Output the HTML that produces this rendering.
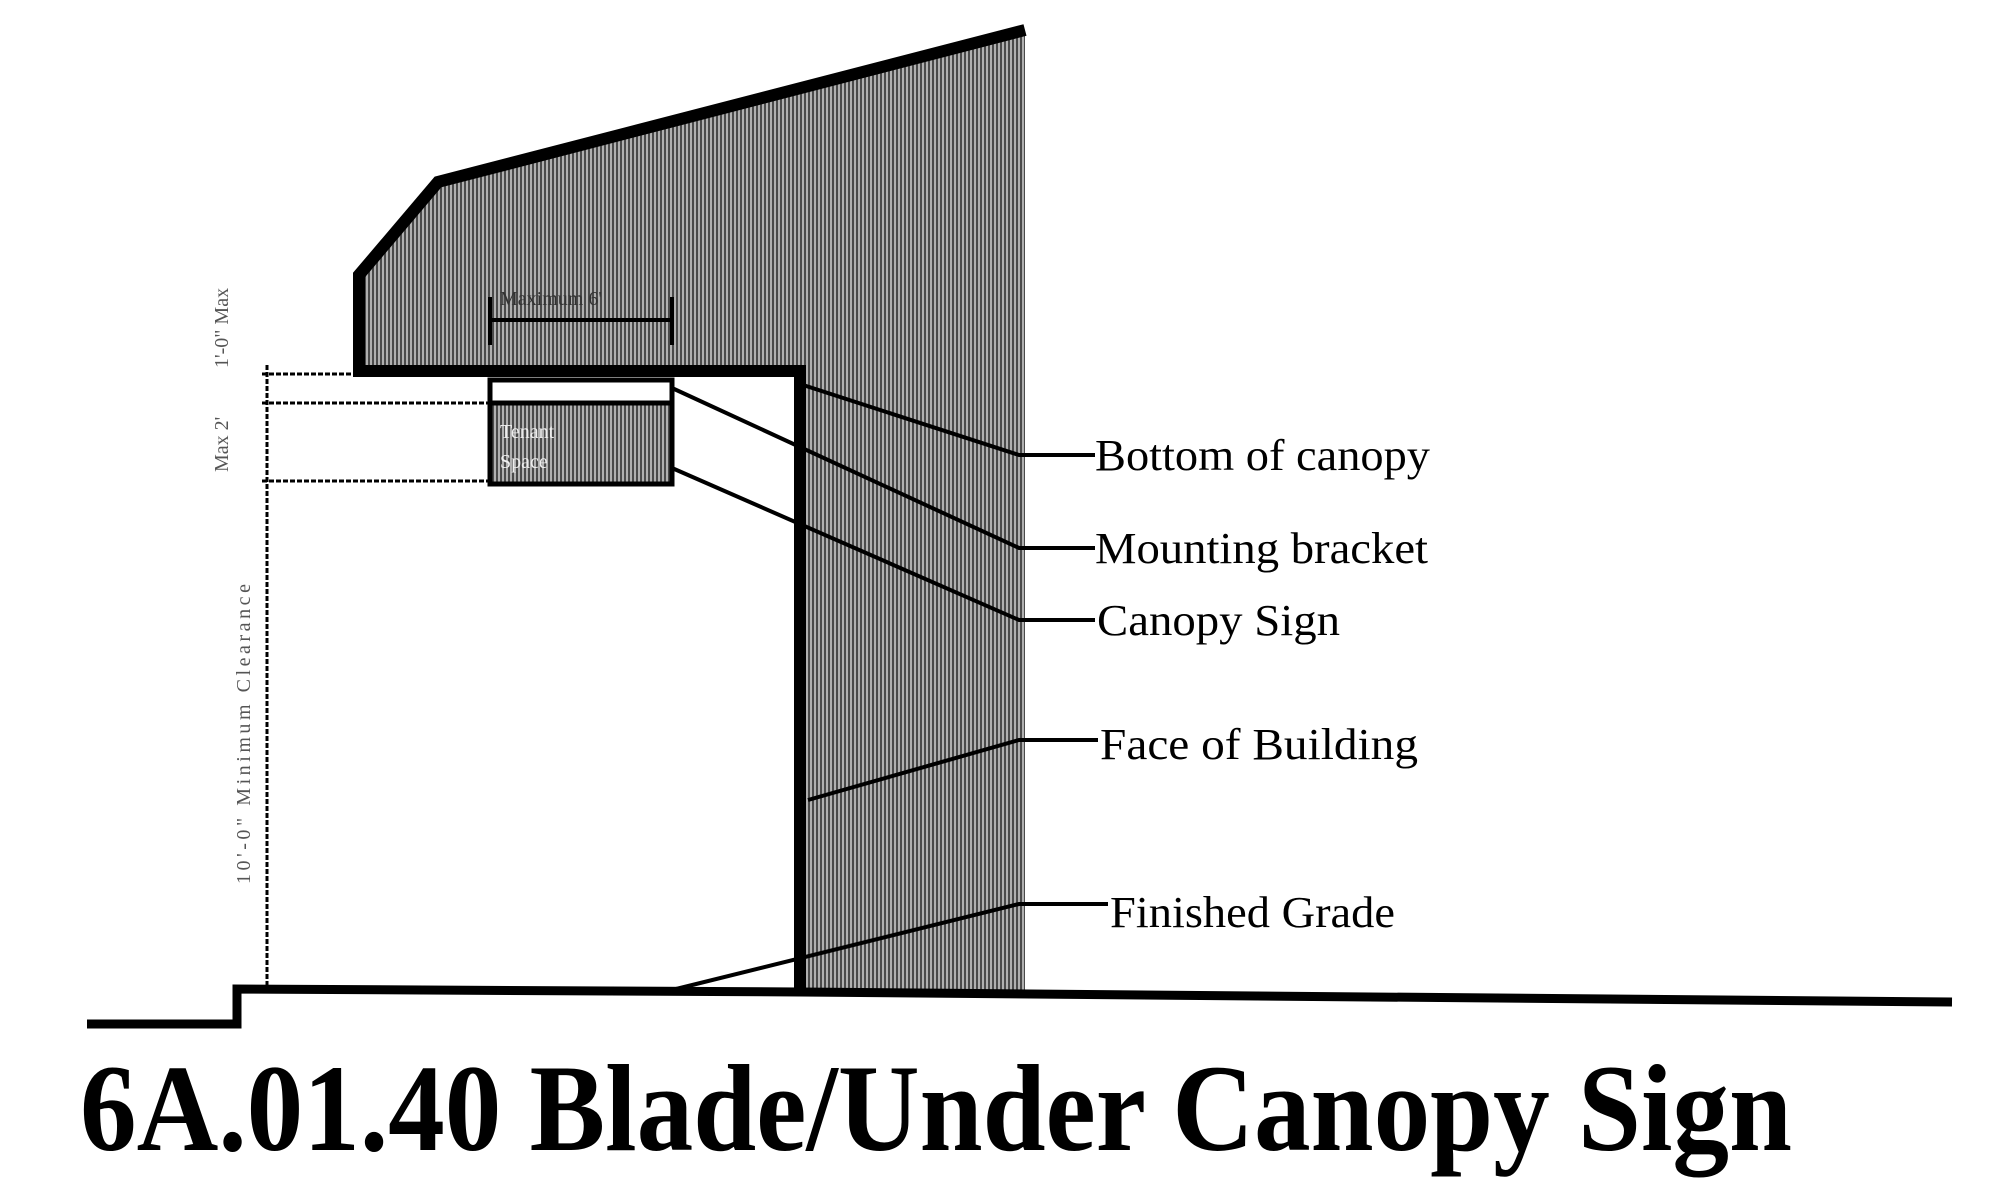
<!DOCTYPE html>
<html><head><meta charset="utf-8"><style>
html,body{margin:0;padding:0;background:#fff;}
svg{display:block}
</style></head><body>
<svg width="2000" height="1182" viewBox="0 0 2000 1182" xmlns="http://www.w3.org/2000/svg">
<defs>
<pattern id="h" width="4" height="6" patternUnits="userSpaceOnUse">
<rect width="4" height="6" fill="#b0b0b0"/><rect width="2" height="6" fill="#4a4a4a"/>
</pattern>
</defs>
<path d="M438,182 L1025,32 L1025,992 L800,992 L800,371 L359,371 L359,275 Z" fill="url(#h)"/>
<rect x="490" y="403" width="182" height="81" fill="url(#h)"/>
<rect x="490" y="380" width="182" height="23" fill="#fff"/>
<polyline points="1025,30 438,182 359,275 359,371 800,371 800,994" fill="none" stroke="#000" stroke-width="12" stroke-linejoin="miter"/>
<rect x="490" y="380" width="182" height="104" fill="none" stroke="#000" stroke-width="5"/>
<line x1="490" y1="403" x2="672" y2="403" stroke="#000" stroke-width="5"/>
<text x="500" y="438" font-family="Liberation Serif, serif" font-size="20" fill="#eee">Tenant</text>
<text x="500" y="468" font-family="Liberation Serif, serif" font-size="20" fill="#eee">Space</text>
<polyline points="87,1024 237,1024 237,989 800,992 1952,1002" fill="none" stroke="#000" stroke-width="9"/>
<g stroke="#000" stroke-width="3" stroke-dasharray="5,2">
<line x1="262" y1="374" x2="359" y2="374"/>
<line x1="262" y1="403" x2="490" y2="403"/>
<line x1="262" y1="481" x2="490" y2="481"/>
<line x1="267" y1="365" x2="267" y2="995"/>
</g>
<line x1="490" y1="320" x2="672" y2="320" stroke="#000" stroke-width="4"/>
<line x1="490" y1="297" x2="490" y2="345" stroke="#000" stroke-width="4"/>
<line x1="672" y1="297" x2="672" y2="345" stroke="#000" stroke-width="4"/>
<text x="500" y="305" font-family="Liberation Serif, serif" font-size="20" fill="#333">Maximum 6'</text>
<g font-family="Liberation Serif, serif" font-size="20" fill="#555">
<text transform="translate(250,884) rotate(-90)" textLength="300">10'-0" Minimum Clearance</text>
<text transform="translate(228,368) rotate(-90)">1'-0" Max</text>
<text transform="translate(228,472) rotate(-90)">Max 2'</text>
</g>
<g stroke="#000" stroke-width="4" fill="none">
<polyline points="800,384 1019,455 1095,455"/>
<polyline points="672,388 1019,548 1095,548"/>
<polyline points="672,468 1019,620 1095,620"/>
<polyline points="808,800 1019,740 1098,740"/>
<polyline points="672,990 1019,904 1108,904"/>
</g>
<g font-family="Liberation Serif, serif" font-size="44" fill="#000" lengthAdjust="spacingAndGlyphs">
<text x="1095" y="470" textLength="335" lengthAdjust="spacingAndGlyphs">Bottom of canopy</text>
<text x="1095" y="563" textLength="333" lengthAdjust="spacingAndGlyphs">Mounting bracket</text>
<text x="1097" y="635" textLength="243" lengthAdjust="spacingAndGlyphs">Canopy Sign</text>
<text x="1100" y="759" textLength="318" lengthAdjust="spacingAndGlyphs">Face of Building</text>
<text x="1110" y="927" textLength="285" lengthAdjust="spacingAndGlyphs">Finished Grade</text>
</g>
<text x="80" y="1150" font-family="Liberation Serif, serif" font-weight="bold" font-size="124" textLength="1712" lengthAdjust="spacingAndGlyphs">6A.01.40 Blade/Under Canopy Sign</text>
</svg>
</body></html>
